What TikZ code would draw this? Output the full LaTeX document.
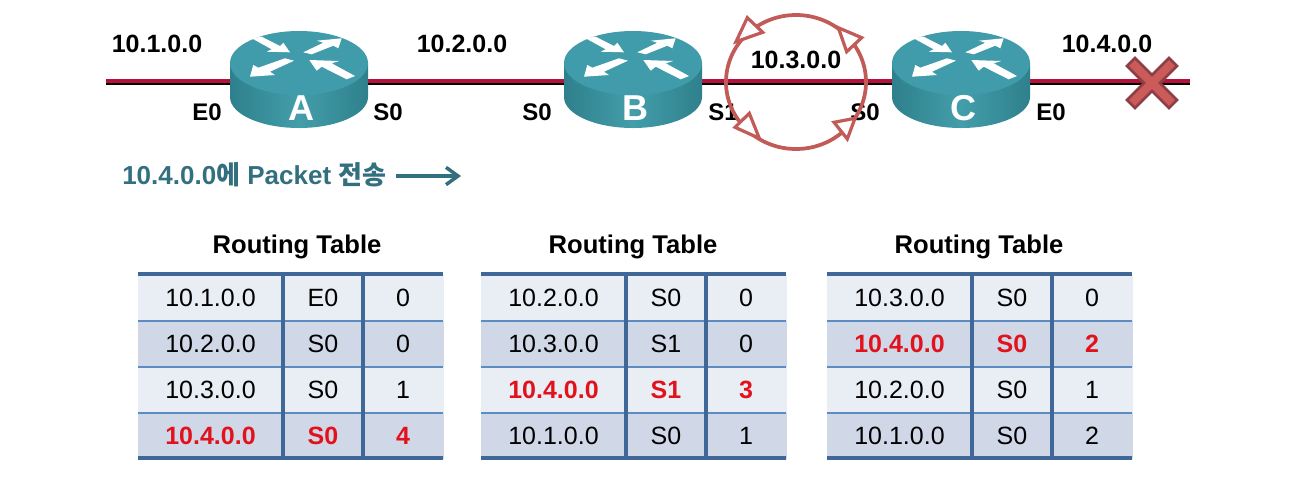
\documentclass[tikz,border=0pt]{standalone}
\usepackage{fontspec}
\setmainfont{Liberation Sans}
\newfontfamily\cjkfont{Noto Sans CJK KR}
\usetikzlibrary{arrows.meta}

\definecolor{wirered}{HTML}{B4123A}
\definecolor{routertop}{HTML}{409CAB}
\definecolor{routermid}{HTML}{439EAA}
\definecolor{routeredge}{HTML}{2E808C}
\definecolor{loopred}{HTML}{C25A58}
\definecolor{crossred}{HTML}{CC5A58}
\definecolor{crossdark}{HTML}{8C3F45}
\definecolor{sendteal}{HTML}{33707F}
\definecolor{lightcell}{HTML}{E9EDF4}
\definecolor{darkcell}{HTML}{D0D8E8}
\definecolor{tablebar}{HTML}{3F6797}
\definecolor{tablerule}{HTML}{5C8CC2}
\definecolor{hotred}{HTML}{E2121C}

\begin{document}
\begin{tikzpicture}[
  x=0.75pt, y=-0.75pt,
  netlabel/.style={font=\bfseries\fontsize{18.75pt}{20pt}\selectfont, inner sep=0},
  titlelabel/.style={font=\bfseries\fontsize{19.2pt}{21pt}\selectfont, inner sep=0},
  portlabel/.style={font=\bfseries\fontsize{18pt}{20pt}\selectfont, inner sep=0},
  sendlabelstyle/.style={font=\bfseries\fontsize{19.5pt}{21pt}\selectfont, text=sendteal, inner sep=0, anchor=west},
  routername/.style={font=\bfseries\fontsize{27pt}{29pt}\selectfont, text=white, inner sep=0},
  routerspot/.style={minimum width=103pt, minimum height=2pt, inner sep=0},
  wire/.style={draw=wirered, line width=3pt},
  wireshadow/.style={draw=black, line width=1.6pt, transform canvas={yshift=-2.2pt}},
  loopline/.style={draw=loopred, line width=2.8pt},
  loophead/.style={draw=loopred, line width=2.4pt, fill=white, line join=miter},
  sendarrow/.style={draw=sendteal, line width=2.6pt, -{Straight Barb[length=9pt,width=13pt,line width=2.6pt]}},
  lightrow/.style={fill=lightcell},
  darkrow/.style={fill=darkcell},
  cell/.style={minimum height=34.5pt, inner sep=0, font=\fontsize{18.75pt}{20pt}\selectfont},
  normalrow/.style={text=black},
  hotrow/.style={text=hotred, font=\bfseries\fontsize{18.75pt}{20pt}\selectfont},
  barline/.style={draw=tablebar, line width=3.4pt},
  ruleline/.style={draw=tablerule, line width=2.2pt},
  arrowmark/.style={fill=white},
  router/.pic={
    \shade[left color=routeredge, right color=routeredge, middle color=routermid]
      (-69,-18) -- (-69,16) arc[start angle=180, end angle=0, x radius=69, y radius=31] -- (69,-18) -- cycle;
    \fill[routertop] (0,-18) ellipse[x radius=69, y radius=32];
    \begin{scope}[shift={(0,-18)}]
      \fill[arrowmark] (-47.3,-24.7) -- (-37.3,-26.3) -- (-19,-17) -- (-15.7,-20.3) -- (-9,-10.7) -- (-32.3,-11.3) -- (-27.3,-13.7) -- cycle;
      \fill[arrowmark] (4.3,-10.7) -- (24.3,-20.3) -- (17.7,-22.3) -- (42.7,-24.7) -- (39.3,-14.7) -- (34.3,-17.3) -- (12.7,-8.7) -- cycle;
      \fill[arrowmark] (-49,13.7) -- (-45.7,2) -- (-40.7,4.7) -- (-14,-4.7) -- (-5,-2.3) -- (-29,8.7) -- (-24,12) -- cycle;
      \fill[arrowmark] (10.3,-3) -- (40.3,-2) -- (32.7,0.3) -- (56,13) -- (47.7,16.3) -- (22.7,3.7) -- (17.7,7.7) -- cycle;
    \end{scope}
  }
]
\useasboundingbox (0,0) rectangle (1293,476);

% routers and the wire
\coordinate (lineL) at (106,81);
\coordinate (lineR) at (1190,81);
\node[routerspot] (A) at (299,81) {};
\node[routerspot] (B) at (633,81) {};
\node[routerspot] (C) at (961,81) {};
\foreach \from/\to in {lineL/A,A/B,B/C,C/lineR} {
  \draw[wireshadow] (\from) -- (\to);
  \draw[wire] (\from) -- (\to);
}
\foreach \r in {A,B,C} {
  \pic at (\r) {router};
  \node[routername] (name\r) at ([xshift=1.5pt,yshift=-20pt]\r.center) {\r};
}

% labels
\node[netlabel] (netA) at (157,44) {10.1.0.0};
\node[netlabel] (netB) at (462,44) {10.2.0.0};
\node[netlabel] (netC) at (796,60) {10.3.0.0};
\node[netlabel] (netD) at (1107,44) {10.4.0.0};
\node[portlabel] (portAE) at (207,112) {E0};
\node[portlabel] (portAS) at (388,112) {S0};
\node[portlabel] (portBS) at (537,112) {S0};
\node[portlabel] (portBT) at (723,112) {S1};
\node[portlabel] (portCS) at (865,112) {S0};
\node[portlabel] (portCE) at (1051,112) {E0};

% loop
\draw[loopline] (796,82) ellipse[x radius=70, y radius=67];
\draw[loophead] (747.3,17.7) -- (736,41.7) -- (762.7,32.3) -- cycle;
\draw[loophead] (838.3,27.7) -- (861.7,37.7) -- (846.7,51.7) -- cycle;
\draw[loophead] (749.3,113.3) -- (735,127.3) -- (759.3,138.3) -- cycle;
\draw[loophead] (834,122.3) -- (855,118.3) -- (847.3,139) -- cycle;

% cross
\draw[fill=crossred, draw=crossdark, line width=1.9pt, shift={(1152,83)}]
  (-17,-25) -- (0,-8) -- (17,-25) -- (25,-17) -- (8,0) -- (25,17) -- (17,25)
  -- (0,8) -- (-17,25) -- (-25,17) -- (-8,0) -- (-25,-17) -- cycle;

% send label
\node[sendlabelstyle] (sendlabel) at (122,175)
  {10.4.0.0{\cjkfont 에} Packet {\cjkfont 전송}};
\coordinate (sendstart) at (396,176);
\coordinate (sendend) at (461,176);
\draw[sendarrow] (sendstart) -- (sendend);

% routing tables
\foreach \x/\c in {138/297,481/633,827/979} {
  \node[titlelabel] (title\x) at (\c,247) {Routing Table};
}
\foreach \x/\y/\rowfill/\look/\net/\port/\hops in {
  138/298/lightrow/normalrow/10.1.0.0/E0/0,
  138/344/darkrow/normalrow/10.2.0.0/S0/0,
  138/390/lightrow/normalrow/10.3.0.0/S0/1,
  138/436/darkrow/hotrow/10.4.0.0/S0/4,
  481/298/lightrow/normalrow/10.2.0.0/S0/0,
  481/344/darkrow/normalrow/10.3.0.0/S1/0,
  481/390/lightrow/hotrow/10.4.0.0/S1/3,
  481/436/darkrow/normalrow/10.1.0.0/S0/1,
  827/298/lightrow/normalrow/10.3.0.0/S0/0,
  827/344/darkrow/hotrow/10.4.0.0/S0/2,
  827/390/lightrow/normalrow/10.2.0.0/S0/1,
  827/436/darkrow/normalrow/10.1.0.0/S0/2} {
  \node[cell, \rowfill, \look, minimum width=108.75pt] (net\x\y) at (\x+72.5,\y) {\net};
  \node[cell, \rowfill, \look, minimum width=60pt] (port\x\y) at (\x+185,\y) {\port};
  \node[cell, \rowfill, \look, minimum width=60.75pt] (hops\x\y) at (\x+265,\y) {\hops};
}
\foreach \x in {138,481,827} {
  \foreach \y in {321,367,413}
    \draw[ruleline] (\x,\y) -- (\x+305,\y);
  \draw[barline] (\x+145,274) -- (\x+145,458);
  \draw[barline] (\x+225,274) -- (\x+225,458);
  \draw[barline] (\x,274) -- (\x+305,274);
  \draw[barline] (\x,458) -- (\x+305,458);
}
\end{tikzpicture}
\end{document}
